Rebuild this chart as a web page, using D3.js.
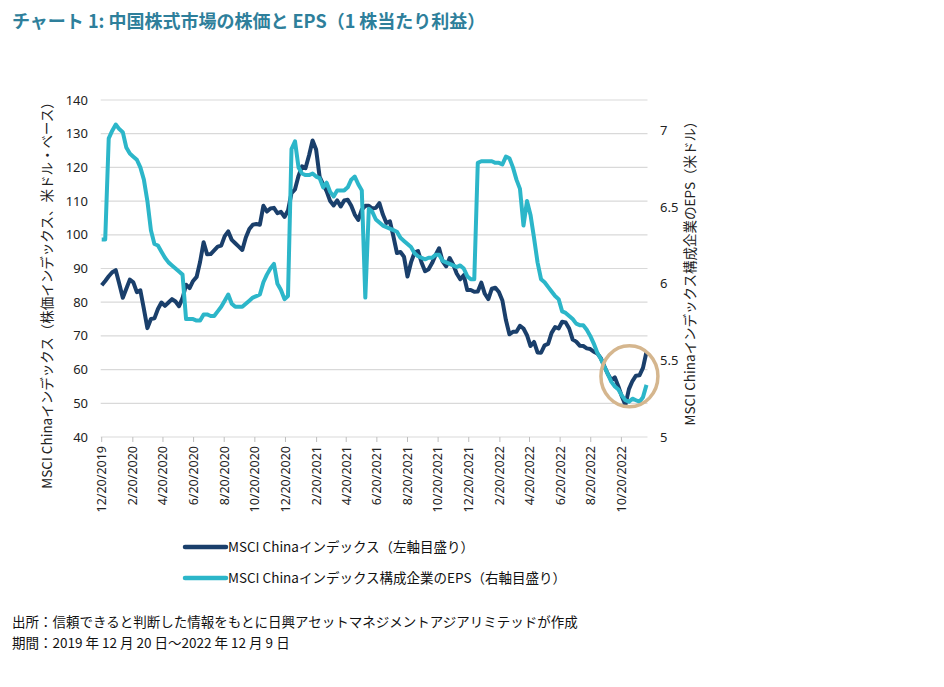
<!DOCTYPE html>
<html><head><meta charset="utf-8">
<script src="https://cdn.jsdelivr.net/npm/d3@7"></script>
<style>
body{margin:0;background:#fff;}
svg{display:block;font-family:"Noto Sans CJK JP","Noto Sans",sans-serif;}
</style></head>
<body><svg id="c" width="944" height="687"></svg>
<script>
// ---- data (weekly, 2019-12-20 .. 2022-12-09) ----
const startDate = "2019-12-20";
const endDate = "2022-12-09";
const indexValues = [
85.0,86.3,87.7,88.9,89.5,85.5,81.3,84.0,86.7,85.9,83.0,83.5,78.0,72.3,75.0,75.2,78.0,79.9,78.9,79.9,
80.9,80.2,78.8,81.2,85.2,84.2,86.3,87.5,92.0,97.8,94.2,94.3,95.4,96.5,96.8,99.6,101.0,98.5,97.5,96.5,
95.5,99.2,101.7,103.0,103.2,103.0,108.6,106.9,107.8,108.0,106.4,106.8,105.3,107.2,112.4,113.5,117.5,120.3,119.8,123.6,
128.0,125.3,117.2,115.0,112.9,110.0,108.7,110.2,108.4,110.2,110.4,108.6,106.0,104.4,107.5,108.6,108.6,107.8,108.0,109.4,
106.0,103.5,104.0,99.5,94.6,94.9,93.5,87.6,91.8,94.7,95.2,91.8,89.2,89.8,91.6,94.0,96.0,92.1,90.6,93.1,
91.2,88.5,86.8,88.0,83.6,83.6,83.1,83.2,85.8,82.5,80.9,84.0,84.3,83.0,80.5,74.7,70.5,71.2,71.2,73.0,
72.2,70.2,67.0,68.2,65.1,65.0,67.2,67.6,70.9,72.6,72.2,74.2,74.0,72.2,68.9,68.3,67.1,67.0,66.3,66.1,
65.3,64.8,63.4,61.0,58.7,56.9,57.7,55.0,52.0,49.5,54.2,56.6,58.2,58.3,60.5,65.3
];
const epsValues = [
6.29,6.29,6.95,7.00,7.04,7.01,6.99,6.89,6.85,6.83,6.81,6.76,6.68,6.54,6.35,6.26,6.25,6.21,6.17,6.14,
6.12,6.10,6.08,6.06,5.77,5.77,5.77,5.76,5.76,5.80,5.80,5.79,5.79,5.82,5.85,5.89,5.93,5.87,5.85,5.85,
5.85,5.87,5.89,5.91,5.92,5.93,6.01,6.06,6.10,6.13,6.00,5.96,5.90,5.92,6.88,6.93,6.76,6.72,6.71,6.71,
6.72,6.70,6.69,6.63,6.66,6.60,6.57,6.61,6.61,6.61,6.63,6.68,6.70,6.65,6.61,5.91,6.49,6.47,6.42,6.40,
6.38,6.37,6.36,6.35,6.34,6.30,6.28,6.26,6.24,6.20,6.18,6.17,6.16,6.17,6.17,6.19,6.19,6.15,6.14,6.13,
6.12,6.11,6.12,6.10,6.05,6.03,6.03,6.79,6.80,6.80,6.80,6.80,6.79,6.79,6.78,6.83,6.82,6.76,6.68,6.62,
6.38,6.54,6.45,6.30,6.14,6.03,6.01,5.98,5.95,5.92,5.90,5.82,5.81,5.79,5.77,5.74,5.73,5.73,5.70,5.66,
5.61,5.55,5.51,5.46,5.41,5.36,5.33,5.31,5.27,5.24,5.23,5.25,5.24,5.23,5.26,5.34
];
const xTickLabels = ["12/20/2019","2/20/2020","4/20/2020","6/20/2020","8/20/2020","10/20/2020",
"12/20/2020","2/20/2021","4/20/2021","6/20/2021","8/20/2021","10/20/2021",
"12/20/2021","2/20/2022","4/20/2022","6/20/2022","8/20/2022","10/20/2022"];
const leftTicks = [40,50,60,70,80,90,100,110,120,130,140];
const rightTicks = [5,5.5,6,6.5,7];
const seriesNames = ["MSCI Chinaインデックス（左軸目盛り）","MSCI Chinaインデックス構成企業のEPS（右軸目盛り）"];
const titleText = "チャート 1: 中国株式市場の株価と EPS（1 株当たり利益）";
const leftAxisTitle = "MSCI Chinaインデックス（株価インデックス、米ドル・ベース）";
const rightAxisTitle = "MSCI Chinaインデックス構成企業のEPS（米ドル）";
const notes = ["出所：信頼できると判断した情報をもとに日興アセットマネジメントアジアリミテッドが作成",
"期間：2019 年 12 月 20 日～2022 年 12 月 9 日"];

// ---- build ----
const parse = d3.timeParse("%m/%d/%Y");
const parseISO = d3.timeParse("%Y-%m-%d");
const t0 = parseISO(startDate);
const dates = indexValues.map((_, i) => d3.timeDay.offset(t0, 7 * i));
const idx = indexValues.map((v, i) => ({d: dates[i], v}));
const eps = epsValues.map((v, i) => ({d: dates[i], v}));

const svg = d3.select("#c");
const L = 101.7, R = 646.5, T = 100, B = 437;
const x = d3.scaleTime().domain([t0, parseISO(endDate)]).range([L, R]);
const yL = d3.scaleLinear().domain([40, 140]).range([B, T]);
const yR = d3.scaleLinear().domain([5, 7.2]).range([B, T]);

const C_NAVY = "#1a3f6b", C_TEAL = "#2cb6c9", C_GRID = "#d9d9d9", C_TITLE = "#2e7f9b";

// title
svg.append("text").attr("x", 12).attr("y", 28).attr("fill", C_TITLE)
  .attr("font-size", 18).attr("font-weight", "bold").text(titleText);

// gridlines
svg.append("g").selectAll("line").data(leftTicks).join("line")
  .attr("x1", L - 1).attr("x2", R + 1)
  .attr("y1", d => yL(d)).attr("y2", d => yL(d))
  .attr("stroke", C_GRID).attr("stroke-width", 1.2);

// left axis labels
svg.append("g").selectAll("text").data(leftTicks).join("text")
  .attr("x", 88).attr("y", d => yL(d)).attr("dy", "0.35em")
  .attr("text-anchor", "end").attr("font-size", 13).attr("fill", "#222")
  .attr("font-family", "'Noto Sans',sans-serif").text(d => d);

// right axis labels
svg.append("g").selectAll("text").data(rightTicks).join("text")
  .attr("x", 660).attr("y", d => yR(d)).attr("dy", "0.35em")
  .attr("text-anchor", "start").attr("font-size", 13).attr("fill", "#222")
  .attr("font-family", "'Noto Sans',sans-serif").text(d => d);

// x ticks
const tickDates = xTickLabels.map(parse);
const xg = svg.append("g");
xg.selectAll("line").data(tickDates).join("line")
  .attr("x1", d => x(d)).attr("x2", d => x(d)).attr("y1", B).attr("y2", B + 5)
  .attr("stroke", "#bfbfbf").attr("stroke-width", 1);
xg.selectAll("text").data(tickDates).join("text")
  .attr("transform", d => `translate(${x(d)},${B + 9}) rotate(-90)`)
  .attr("dy", "0.35em").attr("text-anchor", "end")
  .attr("font-size", 12.5).attr("fill", "#222")
  .attr("font-family", "'Noto Sans',sans-serif")
  .text((d, i) => xTickLabels[i]);

// axis titles
svg.append("text").attr("transform", "translate(52,292) rotate(-90)")
  .attr("text-anchor", "middle").attr("font-size", 13.5).attr("fill", "#222").text(leftAxisTitle);
svg.append("text").attr("transform", "translate(695,270) rotate(-90)")
  .attr("text-anchor", "middle").attr("font-size", 13.5).attr("fill", "#222").text(rightAxisTitle);

// lines
const lineL = d3.line().x(d => x(d.d)).y(d => yL(d.v));
const lineR = d3.line().x(d => x(d.d)).y(d => yR(d.v));
svg.append("path").datum(idx).attr("d", lineL).attr("fill", "none")
  .attr("stroke", C_NAVY).attr("stroke-width", 4).attr("stroke-linejoin", "round");
svg.append("path").datum(eps).attr("d", lineR).attr("fill", "none")
  .attr("stroke", C_TEAL).attr("stroke-width", 4).attr("stroke-linejoin", "round");

// highlight circle around the recent trough
const cDate = d3.timeDay.offset(t0, 7 * 150);
svg.append("ellipse").attr("cx", x(cDate) + 0.5).attr("cy", yL(58))
  .attr("rx", 28.5).attr("ry", 30.5).attr("fill", "none")
  .attr("stroke", "#d5b68e").attr("stroke-width", 3.5);

// legend
const leg = svg.append("g");
[C_NAVY, C_TEAL].forEach((c, i) => {
  const yy = 547 + i * 31;
  leg.append("line").attr("x1", 185).attr("x2", 226).attr("y1", yy).attr("y2", yy)
    .attr("stroke", c).attr("stroke-width", 4.5).attr("stroke-linecap", "round");
  leg.append("text").attr("x", 228).attr("y", yy).attr("dy", "0.36em")
    .attr("font-size", 13.5).attr("fill", "#111").text(seriesNames[i]);
});

// notes
notes.forEach((n, i) => {
  svg.append("text").attr("x", 12).attr("y", 627 + i * 21)
    .attr("font-size", 13.5).attr("fill", "#111").text(n);
});
</script></body></html>
